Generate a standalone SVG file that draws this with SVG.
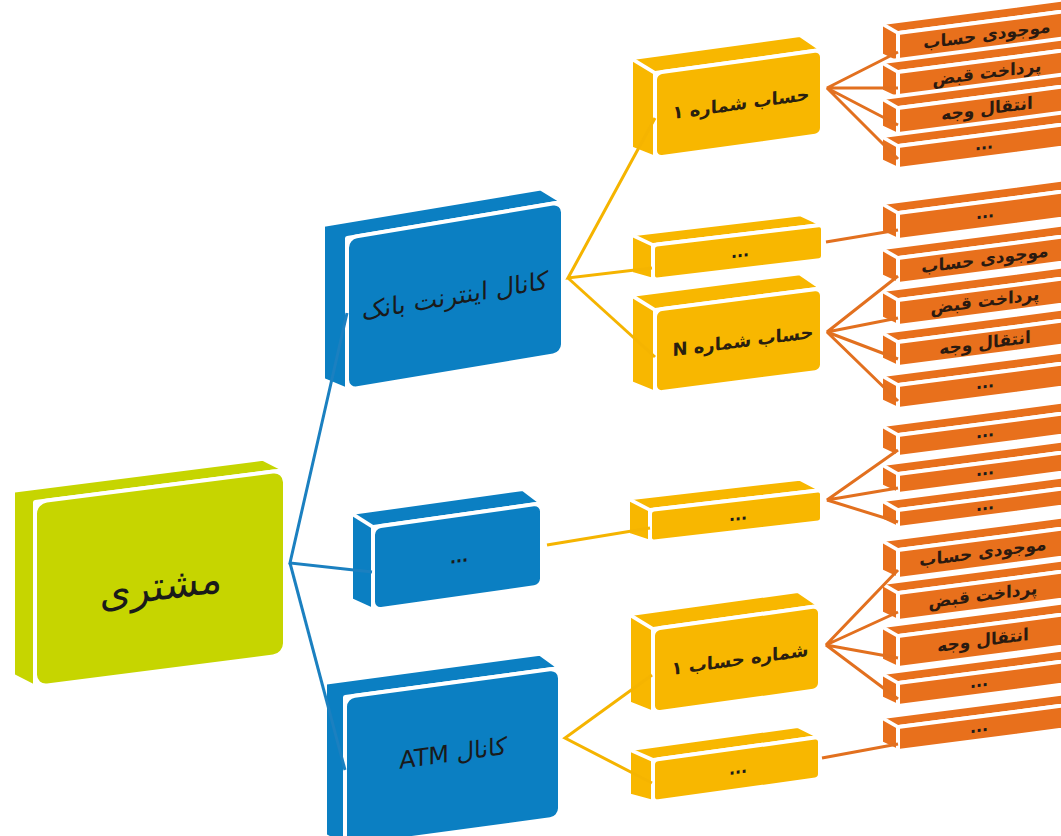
<svg xmlns="http://www.w3.org/2000/svg" width="1061" height="836" viewBox="0 0 1061 836">
<style>
.g{fill:#c6d500}.b{fill:#0b7fc2}.y{fill:#f8b700}.o{fill:#e8701c}
.f{stroke:#fff;stroke-width:4;stroke-linejoin:round}
.sep{stroke:#fff;stroke-width:3.5}
.t{font-family:'DejaVu Sans',sans-serif;fill:#1a1a1a;text-anchor:middle;dominant-baseline:central;direction:rtl;unicode-bidi:embed}
.tl{font-size:17px;font-weight:bold;fill:#2a1a10}
.ty{font-size:18px;font-weight:bold;fill:#2a2010}
.td{font-size:16px;font-weight:bold}
.cb{stroke:#1b80c0;stroke-width:3;fill:none}
.cy{stroke:#f5b400;stroke-width:3;fill:none}
.co{stroke:#e2701f;stroke-width:3;fill:none}
</style>
<rect width="1061" height="836" fill="#fff"/>

<!-- green root -->
<g id="n-customer" transform="translate(35,502) skewY(-7.3)">
<polygon class="g f" points="0,185 -22,171 -22,-14 228,-14 250,0 0,0"/>
<rect class="g f" width="250" height="185" rx="12"/>
<text class="t" x="126" y="100" font-size="40">مشتری</text>
</g>

<!-- blue channels -->
<g id="n-internet" transform="translate(347,238) skewY(-9.5)">
<polygon class="b f" points="0,152 -24,138 -24,-17 194,-17 216,0 0,0"/>
<rect class="b f" width="216" height="152" rx="10"/>
<text class="t" x="108" y="76" font-size="25">کانال اینترنت بانک</text>
</g>
<g id="n-channel-etc" transform="translate(373,527) skewY(-8)">
<polygon class="b f" points="0,83 -22,70 -22,-17 150,-17 169,0 0,0"/>
<line class="sep" x1="-22" y1="-17" x2="0" y2="0"/>
<rect class="b f" width="169" height="83" rx="8"/>
<text class="t td" x="86" y="42">...</text>
</g>
<g id="n-atm" transform="translate(345,697) skewY(-7.7)">
<polygon class="b f" points="0,150 -20,136 -20,-17 195,-17 215,0 0,0"/>
<rect class="b f" width="215" height="150" rx="10"/>
<text class="t" x="108" y="71" font-size="24">کانال ATM</text>
</g>

<!-- yellow accounts -->
<g id="n-acc1" transform="translate(655,73) skewY(-7.9)">
<polygon class="y f" points="0,85 -24,72 -24,-18 145,-18 167,0 0,0"/>
<line class="sep" x1="-24" y1="-18" x2="0" y2="0"/>
<rect class="y f" width="167" height="85" rx="7"/>
<text class="t ty" x="86" y="42">حساب شماره ۱</text>
</g>
<g id="n-acc-etc1" transform="translate(653,245) skewY(-6.8)">
<polygon class="y f" points="0,35 -22,26 -22,-13 148,-13 170,0 0,0"/>
<line class="sep" x1="-22" y1="-13" x2="0" y2="0"/>
<rect class="y f" width="170" height="35" rx="4"/>
<text class="t td" x="87" y="17">...</text>
</g>
<g id="n-accN" transform="translate(655,310) skewY(-7.4)">
<polygon class="y f" points="0,83 -24,70 -24,-18 145,-18 167,0 0,0"/>
<line class="sep" x1="-24" y1="-18" x2="0" y2="0"/>
<rect class="y f" width="167" height="83" rx="7"/>
<text class="t ty" x="88" y="42">حساب شماره N</text>
</g>
<g id="n-acc-etc2" transform="translate(650,510) skewY(-6.6)">
<polygon class="y f" points="0,32 -22,22 -22,-14 150,-14 172,0 0,0"/>
<line class="sep" x1="-22" y1="-14" x2="0" y2="0"/>
<rect class="y f" width="172" height="32" rx="4"/>
<text class="t td" x="88" y="15">...</text>
</g>
<g id="n-atm-acc1" transform="translate(653,629) skewY(-7.9)">
<polygon class="y f" points="0,84 -24,71 -24,-18 145,-18 167,0 0,0"/>
<line class="sep" x1="-24" y1="-18" x2="0" y2="0"/>
<rect class="y f" width="167" height="84" rx="7"/>
<text class="t ty" x="87" y="42">شماره حساب ۱</text>
</g>
<g id="n-atm-acc-etc" transform="translate(653,760) skewY(-7.9)">
<polygon class="y f" points="0,42 -24,32 -24,-14 145,-14 167,0 0,0"/>
<line class="sep" x1="-24" y1="-14" x2="0" y2="0"/>
<rect class="y f" width="167" height="42" rx="5"/>
<text class="t td" x="85" y="20">...</text>
</g>

<!-- orange services -->
<g id="s-a" transform="translate(898,33) skewY(-7.4)"><polygon class="o f" points="0,30 -17,20 -17,-12 180,-12 200,0 0,0"/><line class="sep" x1="-17" y1="-12" x2="0" y2="0"/><rect class="o f" width="200" height="30" rx="2"/><text class="t tl" x="89" y="13">موجودی حساب</text></g>
<g id="s-b" transform="translate(898,72) skewY(-7.4)"><polygon class="o f" points="0,27 -17,17 -17,-12 180,-12 200,0 0,0"/><line class="sep" x1="-17" y1="-12" x2="0" y2="0"/><rect class="o f" width="200" height="27" rx="2"/><text class="t tl" x="89" y="12">پرداخت قبض</text></g>
<g id="s-c" transform="translate(898,108) skewY(-7.4)"><polygon class="o f" points="0,27 -17,17 -17,-12 180,-12 200,0 0,0"/><line class="sep" x1="-17" y1="-12" x2="0" y2="0"/><rect class="o f" width="200" height="27" rx="2"/><text class="t tl" x="89" y="12">انتقال وجه</text></g>
<g id="s-d" transform="translate(898,146) skewY(-7.4)"><polygon class="o f" points="0,23 -17,13 -17,-12 180,-12 200,0 0,0"/><line class="sep" x1="-17" y1="-12" x2="0" y2="0"/><rect class="o f" width="200" height="23" rx="2"/><text class="t td" x="86" y="9">...</text></g>

<g id="s-e" transform="translate(898,213) skewY(-7.4)"><polygon class="o f" points="0,27 -17,17 -17,-12 180,-12 200,0 0,0"/><line class="sep" x1="-17" y1="-12" x2="0" y2="0"/><rect class="o f" width="200" height="27" rx="2"/><text class="t td" x="87" y="11">...</text></g>
<g id="s-f" transform="translate(898,258) skewY(-7.4)"><polygon class="o f" points="0,26 -17,16 -17,-12 180,-12 200,0 0,0"/><line class="sep" x1="-17" y1="-12" x2="0" y2="0"/><rect class="o f" width="200" height="26" rx="2"/><text class="t tl" x="87" y="12">موجودی حساب</text></g>
<g id="s-g" transform="translate(898,300) skewY(-7.4)"><polygon class="o f" points="0,26 -17,16 -17,-12 180,-12 200,0 0,0"/><line class="sep" x1="-17" y1="-12" x2="0" y2="0"/><rect class="o f" width="200" height="26" rx="2"/><text class="t tl" x="87" y="12">پرداخت قبض</text></g>
<g id="s-h" transform="translate(898,342) skewY(-7.4)"><polygon class="o f" points="0,25 -17,15 -17,-12 180,-12 200,0 0,0"/><line class="sep" x1="-17" y1="-12" x2="0" y2="0"/><rect class="o f" width="200" height="25" rx="2"/><text class="t tl" x="87" y="12">انتقال وجه</text></g>
<g id="s-i" transform="translate(898,385) skewY(-7.4)"><polygon class="o f" points="0,24 -17,14 -17,-12 180,-12 200,0 0,0"/><line class="sep" x1="-17" y1="-12" x2="0" y2="0"/><rect class="o f" width="200" height="24" rx="2"/><text class="t td" x="87" y="9">...</text></g>

<g id="s-j" transform="translate(898,435) skewY(-7.4)"><polygon class="o f" points="0,22 -17,12 -17,-12 180,-12 200,0 0,0"/><line class="sep" x1="-17" y1="-12" x2="0" y2="0"/><rect class="o f" width="200" height="22" rx="2"/><text class="t td" x="87" y="8">...</text></g>
<g id="s-k" transform="translate(898,474) skewY(-7.4)"><polygon class="o f" points="0,20 -17,10 -17,-12 180,-12 200,0 0,0"/><line class="sep" x1="-17" y1="-12" x2="0" y2="0"/><rect class="o f" width="200" height="20" rx="2"/><text class="t td" x="87" y="7">...</text></g>
<g id="s-l" transform="translate(898,510) skewY(-7.4)"><polygon class="o f" points="0,18 -17,8 -17,-12 180,-12 200,0 0,0"/><line class="sep" x1="-17" y1="-12" x2="0" y2="0"/><rect class="o f" width="200" height="18" rx="2"/><text class="t td" x="87" y="6">...</text></g>

<g id="s-m" transform="translate(898,550) skewY(-7.4)"><polygon class="o f" points="0,29 -17,19 -17,-12 180,-12 200,0 0,0"/><line class="sep" x1="-17" y1="-12" x2="0" y2="0"/><rect class="o f" width="200" height="29" rx="2"/><text class="t tl" x="85" y="13">موجودی حساب</text></g>
<g id="s-n" transform="translate(898,593) skewY(-7.4)"><polygon class="o f" points="0,28 -17,18 -17,-12 180,-12 200,0 0,0"/><line class="sep" x1="-17" y1="-12" x2="0" y2="0"/><rect class="o f" width="200" height="28" rx="2"/><text class="t tl" x="85" y="13">پرداخت قبض</text></g>
<g id="s-o" transform="translate(898,636) skewY(-7.4)"><polygon class="o f" points="0,32 -17,22 -17,-12 180,-12 200,0 0,0"/><line class="sep" x1="-17" y1="-12" x2="0" y2="0"/><rect class="o f" width="200" height="32" rx="2"/><text class="t tl" x="85" y="15">انتقال وجه</text></g>
<g id="s-p" transform="translate(898,683) skewY(-7.4)"><polygon class="o f" points="0,23 -17,13 -17,-12 180,-12 200,0 0,0"/><line class="sep" x1="-17" y1="-12" x2="0" y2="0"/><rect class="o f" width="200" height="23" rx="2"/><text class="t td" x="81" y="9">...</text></g>
<g id="s-q" transform="translate(898,727) skewY(-7.4)"><polygon class="o f" points="0,24 -17,14 -17,-12 180,-12 200,0 0,0"/><line class="sep" x1="-17" y1="-12" x2="0" y2="0"/><rect class="o f" width="200" height="24" rx="2"/><text class="t td" x="81" y="10">...</text></g>

<!-- connectors -->
<g id="connectors">
<polyline class="cb" points="347,313 290,563 372,572"/>
<line class="cb" x1="290" y1="563" x2="345" y2="770"/>
<polyline class="cy" points="655,118 568,278 652,268"/>
<line class="cy" x1="568" y1="278" x2="655" y2="357"/>
<line class="cy" x1="547" y1="545" x2="650" y2="528"/>
<polyline class="cy" points="652,675 565,738 652,783"/>
<polyline class="co" points="898,52 827,88 898,88"/>
<polyline class="co" points="898,125 827,88 898,159"/>
<line class="co" x1="826" y1="242" x2="898" y2="230"/>
<polyline class="co" points="898,276 827,332 898,318"/>
<polyline class="co" points="898,359 827,332 898,401"/>
<polyline class="co" points="898,450 827,500 898,488"/>
<line class="co" x1="827" y1="500" x2="898" y2="522"/>
<polyline class="co" points="898,570 826,645 898,612"/>
<polyline class="co" points="898,658 826,645 898,699"/>
<line class="co" x1="822" y1="758" x2="898" y2="744"/>
</g>
</svg>
